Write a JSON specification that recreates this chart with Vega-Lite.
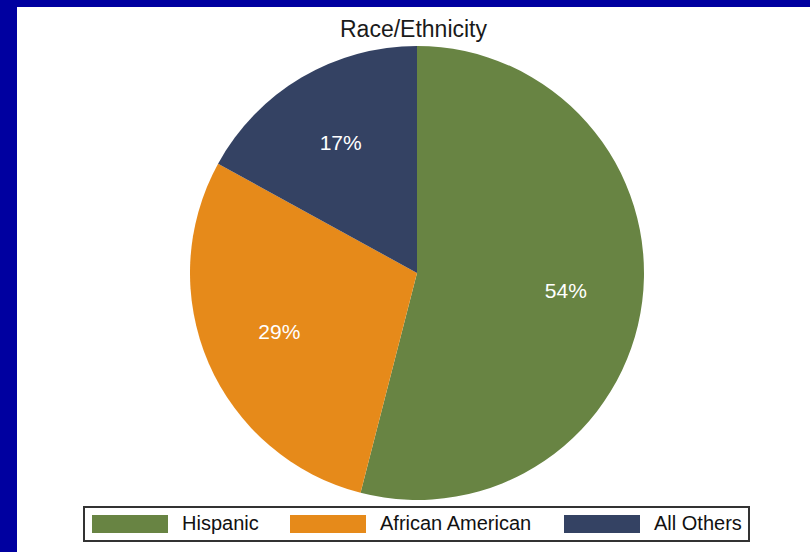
{
  "$schema": "https://vega.github.io/schema/vega-lite/v6.json",
  "width": 793,
  "height": 545,
  "padding": {"left": 17, "top": 7, "right": 0, "bottom": 0},
  "autosize": {"type": "pad"},
  "background": "#0000A0",
  "view": {"fill": "white", "stroke": null},
  "title": {
    "text": "Race/Ethnicity",
    "fontSize": 23,
    "font": "Liberation Sans",
    "fontWeight": "normal",
    "color": "#1a1a1a",
    "anchor": "middle",
    "frame": "group",
    "offset": -53,
    "baseline": "alphabetic"
  },
  "data": {
    "values": [
      {"group": "Hispanic", "pct": 54, "label": "54%", "order": 1},
      {"group": "African American", "pct": 29, "label": "29%", "order": 2},
      {"group": "All Others", "pct": 17, "label": "17%", "order": 3}
    ]
  },
  "encoding": {
    "theta": {"field": "pct", "type": "quantitative", "stack": true},
    "order": {"field": "order", "type": "quantitative"}
  },
  "layer": [
    {
      "mark": {"type": "arc", "outerRadius": 227, "xOffset": 3.5, "yOffset": -6.5},
      "encoding": {
        "color": {
          "field": "group",
          "type": "nominal",
          "scale": {
            "domain": ["Hispanic", "African American", "All Others"],
            "range": ["#688443", "#E68A1A", "#344263"]
          },
          "legend": {
            "orient": "none",
            "legendX": 67,
            "legendY": 500,
            "direction": "horizontal",
            "title": null,
            "symbolType": "M-4.222,-1H4.222V1H-4.222Z",
            "symbolSize": 324,
            "symbolOffset": 29,
            "symbolStrokeWidth": 0,
            "symbolOpacity": 1,
            "labelFont": "Liberation Sans",
            "labelFontSize": 20,
            "labelColor": "#111111",
            "labelOffset": 42,
            "labelLimit": 400,
            "columnPadding": 30,
            "padding": 7,
            "strokeColor": "#333333",
            "fillColor": "white",
            "encode": {"legend": {"update": {"strokeWidth": {"value": 2}}}}
          }
        }
      }
    },
    {
      "mark": {
        "type": "text",
        "radius": 150,
        "xOffset": 3.5,
        "yOffset": -6.5,
        "fontSize": 21,
        "font": "Liberation Sans",
        "fill": "white"
      },
      "encoding": {
        "detail": {"field": "group", "type": "nominal"},
        "text": {"field": "label", "type": "nominal"}
      }
    }
  ]
}
